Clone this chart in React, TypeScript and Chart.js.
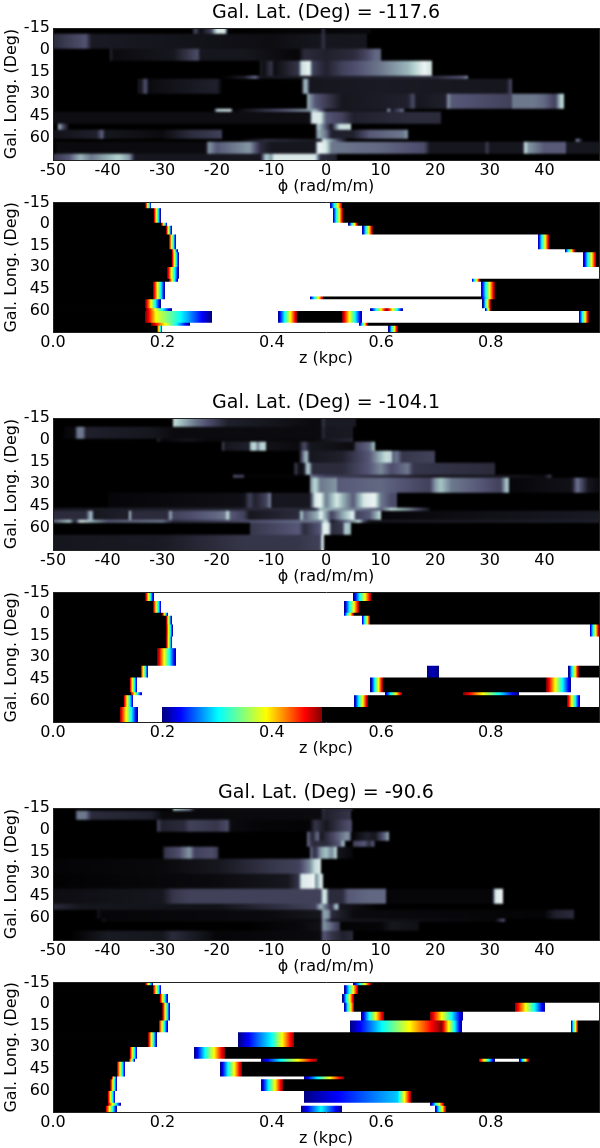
import React, { useEffect, useRef } from "react";
import { Chart, registerables } from "chart.js";

Chart.register(...registerables);

type Stop = number[];

const rowCount = 44;
const rowLabels = Array.from({ length: rowCount }, (_, i) => String(i));
const lonTicks = { min: -15, max: 75, step: 15 };
const titles = ["Gal. Lat. (Deg) = -117.6", "Gal. Lat. (Deg) = -104.1", "Gal. Lat. (Deg) = -90.6"];

// Faraday-depth panels: last row of each band, then [phi, brightness] stops
const phiRows1 = [2, 7, 11, 16, 17, 22, 27, 28, 32, 34, 37, 38, 42, 44];
const phiStops1: Stop[][] = [
  [[-24.5, 0], [-24, 0.35], [-23, 0.05], [-21, 0.3], [-20, 0.9], [-18.5, 0.9], [-18, 0], [-1, 0.03], [-0.5, 0.25], [0, 0.03], [8, 0.04], [8.5, 0]],
  [[-50, 0.2], [-44, 0.38], [-43, 0.12], [-10, 0.06], [-1, 0.1], [-0.5, 0.25], [0, 0.1], [7.5, 0.1]],
  [[-39.5, 0.2], [-39, 0.05], [-28, 0.1], [-23.5, 0.35], [-23, 0.1], [-15, 0.1], [-5, 0.03], [-4, 0.2], [0, 0.15], [5, 0.2], [7, 0.3], [9, 0.45], [10, 0.45]],
  [[-12, 0.15], [-11.5, 0.05], [-10, 0.25], [-9.5, 0.05], [-5, 0.25], [-4.5, 0.85], [-3, 0.95], [-2.5, 0.3], [0, 0.15], [3, 0.3], [10, 0.5], [15, 0.7], [18, 0.95], [19.5, 0.85]],
  [[-19, 0], [-15, 0.15], [-13, 0.5], [-12, 0.1], [20, 0.2], [25, 0.4], [26, 0.6]],
  [[-34.5, 0.2], [-34, 0.05], [-33, 0.4], [-32.5, 0.05], [-20, 0.15], [-19, 0], [-4.5, 0], [-4, 0.7], [-3.5, 0.7], [-3, 0.1], [10, 0.12], [33, 0.1], [34, 0.35]],
  [[-3.5, 0.7], [-2, 0.4], [3, 0.1], [15, 0.15], [16, 0.35], [16.5, 0.1], [22, 0.15], [22.3, 0.6], [23, 0.4], [34, 0.3], [34, 0.5], [38, 0.5], [40, 0.45], [42, 0.3], [43, 0.8], [43.5, 0.8]],
  [[-20.5, 0], [-20, 0.8], [-17.5, 0.85], [-17, 0], [-3, 0.6], [-2, 0.7], [0, 0.1], [11, 0.1], [11.5, 0.7], [12, 0.1], [14, 0.5], [14.5, 0.05]],
  [[-50, 0.06], [-3, 0.06], [-2.5, 0.9], [-1, 0.9], [0, 0.4], [3, 0.3], [5, 0.15], [15, 0.2], [21, 0.2]],
  [[-49, 0.7], [-48, 0.3], [-47, 0], [-2, 0], [-1.5, 0.8], [1, 0.1], [2.5, 0.85], [4.5, 0.85]],
  [[-50, 0.08], [-42, 0.15], [-41, 0.45], [-40.5, 0.1], [-30, 0.05], [-25, 0.2], [-19, 0.3], [-19, 0], [-2, 0], [-1.5, 0.7], [0, 0.5], [1, 0.15], [5, 0.15], [8, 0.4], [14, 0.5], [15, 0.6]],
  [[-16, 0], [-11, 0.2], [-1, 0.1], [-0.5, 0.9], [3, 0.2], [4, 0], [45.5, 0], [46, 0.6], [47, 0]],
  [[-49.5, 0.05], [-22, 0.05], [-21.5, 0.6], [-20, 0.4], [-14, 0.6], [-12, 0.2], [-10, 0.1], [-2, 0.1], [-1.5, 0.95], [0, 0.9], [1, 0.5], [10, 0.45], [18, 0.35], [19, 0.1], [29, 0.1], [29.5, 0.3], [30, 0.1], [36, 0.1], [36.5, 0.9], [37, 0.6], [40, 0.4], [44, 0.4], [44, 0.1], [50, 0.1]],
  [[-50, 0.25], [-47, 0.4], [-45, 0.7], [-43, 0.5], [-38, 0.8], [-36, 0.6], [-35, 0.1], [-12, 0.1], [-11, 0.8], [-10, 0.6], [-9.5, 0.9], [-2, 0.9], [-1, 0.2], [2, 0.15]],
];

const phiRows3 = [3, 7, 8, 11, 15, 19, 20, 25, 30, 31, 34, 35, 39, 44];
const phiStops3: Stop[][] = [
  [[-28, 0.85], [-24, 0.5], [-18, 0.15], [-3, 0.05], [-1, 0.05], [-0.5, 0.25], [0, 0.12], [5.5, 0.12]],
  [[-48, 0.03], [-46, 0.05], [-45.5, 0.5], [-44.5, 0.5], [-44, 0.15], [-32, 0.1], [-28, 0.05], [-1, 0.05], [-0.5, 0.2], [0, 0.1], [5, 0.12]],
  [[-31, 0.2], [-30, 0.03], [-25, 0.1], [-22, 0.04], [-2, 0.04], [0, 0.1], [5, 0.2]],
  [[-19, 0.35], [-18.5, 0.1], [-14, 0.15], [-14, 0.7], [-13, 0.85], [-12.5, 0.5], [-12, 0.8], [-11, 0.8], [-11, 0.08], [-5, 0.05], [-4, 0.35], [-3, 0.1], [5, 0.05], [5.5, 0.3], [8, 0.45], [9, 0.8]],
  [[-5, 0], [-4, 0.6], [-3.5, 0.75], [-3, 0.1], [3, 0.15], [8, 0.4], [11, 0.85], [12, 0.8], [12, 0.4], [13, 0.5], [14, 0.25], [19, 0.3], [20, 0.3]],
  [[-6, 0], [-5.5, 0.3], [-5, 0.05], [-4, 0.1], [-3.5, 0.8], [-3, 0.7], [-2.5, 0.2], [3, 0.2], [8, 0.4], [10, 0.55], [12, 0.35], [15, 0.5], [16, 0.25], [30, 0.2], [31, 0.2]],
  [[-17, 0.35], [-15, 0.3], [-15, 0.02], [-3, 0.02], [-3, 0.5], [0, 0.3], [20, 0.1], [32, 0.1], [40, 0.05], [41, 0.3], [41.5, 0]],
  [[-3, 0.5], [-2, 0.85], [-1, 0.5], [2, 0.6], [2, 0.4], [10, 0.45], [19, 0.3], [20, 0.6], [21, 0.75], [23, 0.5], [28, 0.4], [32, 0.3], [33, 0.75], [33.5, 0.7], [33.5, 0.03], [45, 0.08], [46, 0.5], [48, 0.1], [50, 0.05]],
  [[-40, 0.03], [-15, 0.07], [-14, 0.3], [-13, 0.15], [-11, 0.3], [-10, 0.6], [-10, 0.1], [-3, 0.1], [-2, 0.9], [-1, 0.95], [0, 0.5], [2, 0.9], [3, 0.7], [5, 0.4], [7, 0.9], [9, 0.95], [10, 0.5], [12, 0.35], [13, 0.35]],
  [[-50, 0.1], [-2, 0.2], [-1, 0.7], [10, 0.4], [12, 0.85], [15, 0.6], [19, 0.1]],
  [[-50, 0.2], [-44, 0.2], [-43, 0.8], [-42.5, 0.1], [-36, 0.15], [-36, 0.85], [-35.5, 0.2], [-29, 0.2], [-28.5, 0.7], [-28, 0.3], [-20, 0.45], [-18.5, 0.5], [-18, 0.9], [-17.5, 0.4], [-15, 0.3], [-14, 0.1], [-5, 0.2], [-4.5, 0.8], [-4, 0.4], [-1.5, 0.7], [-1, 0.95], [1, 0.3], [3, 0.65], [5, 0.95], [5.5, 0.3], [8, 0.4], [10, 0.85], [10, 0.03], [50, 0.12]],
  [[-50, 0.4], [-47, 0.8], [-46, 0.1], [-45, 0.9], [-44, 0.8], [-40, 0.4], [-30, 0.5], [-28, 0.2], [-1, 0.5], [0, 0.9], [1, 0.1], [5, 0.6], [6, 0.9], [7, 0.3], [8, 0.1], [50, 0.15]],
  [[-14, 0], [-14, 0.25], [-5, 0.4], [-4, 0.2], [-1, 0.4], [-0.5, 0.95], [0.5, 0.9], [1, 0.2], [3, 0.25], [3.5, 0.8], [4.5, 0.7]],
  [[-50, 0.1], [-30, 0.12], [-15, 0.25], [-5, 0.25], [-1, 0.3], [-0.8, 0.9], [-0.3, 0.9]],
];

const phiRows5 = [1, 4, 8, 11, 13, 17, 22, 27, 32, 34, 37, 38, 41, 44];
const phiStops5: Stop[][] = [
  [[-28, 0.8], [-25, 0.5], [-24, 0.05], [-1, 0.05], [-0.5, 0.25], [0, 0.15], [5, 0.2]],
  [[-46, 0], [-45.5, 0.5], [-44, 0.5], [-43, 0.2], [-32, 0.15], [-30, 0.04], [-1, 0.05], [-0.5, 0.2], [0, 0.15], [4.5, 0.25]],
  [[-31, 0.35], [-30, 0.15], [-26, 0.2], [-25, 0.3], [-20, 0.25], [-18, 0.35], [-17.5, 0.05], [-13, 0.03], [-3, 0.02], [-2, 0.25], [0, 0.1], [4, 0.35], [4.8, 0.35]],
  [[-3.5, 0.5], [-2.5, 0.15], [-1.5, 0.5], [-1, 0.1], [2, 0.4], [4, 0.6], [4.5, 0.4], [4.5, 0], [7.5, 0.15], [9, 0.1], [11, 0.5], [11.5, 0.7]],
  [[-3.5, 0.5], [-2.5, 0.2], [0, 0.2], [2.5, 0.4], [3, 0.7], [3.5, 0.6], [3.5, 0], [5, 0], [5, 0.3], [7, 0.4], [8, 0.2], [8.5, 0.4], [9, 0.2]],
  [[-30, 0], [-29.5, 0.25], [-27, 0.35], [-25, 0.6], [-24, 0.3], [-21, 0.35], [-20, 0.3], [-19.5, 0], [-3, 0], [-3, 0.5], [-2, 0.2], [-1, 0.6], [0, 0.75], [1, 0.55], [2, 0.85], [2, 0.1], [5, 0.03]],
  [[-50, 0.02], [-30, 0.04], [-20, 0.1], [-10, 0.25], [-5, 0.3], [-3, 0.55], [-2, 0.85], [-1, 0.9]],
  [[-50, 0.01], [-20, 0.05], [-7, 0.1], [-5, 0.25], [-4.5, 0.9], [-2, 0.95], [-2, 0.5], [-1, 0.9], [-0.5, 0.9]],
  [[-50, 0.06], [-30, 0.1], [-28, 0.25], [-25, 0.3], [-5, 0.3], [-1, 0.3], [-0.5, 0.9], [0, 0.9], [0.5, 0.2], [3, 0.2], [4, 0.4], [8, 0.45], [11, 0.45], [11, 0.03], [30.5, 0.03], [31, 0.9], [32.5, 0.95]],
  [[-50, 0.2], [-45, 0.1], [-20, 0.08], [-2, 0.3], [-1, 0.7], [1, 0.2], [2, 0.85], [2.5, 0.1], [10, 0]],
  [[-42, 0.1], [-41, 0.03], [-10, 0.05], [-1, 0.1], [-0.5, 0.65], [0.5, 0.6], [1, 0.2], [5, 0.05], [40, 0.02], [42, 0.15], [45.5, 0.2]],
  [[-41, 0.1], [-40, 0.03], [-1, 0.05], [-0.5, 0.6], [1, 0.1], [31, 0.03], [32.5, 0.4], [33, 0]],
  [[-15, 0], [-5, 0.04], [-1, 0.08], [-0.5, 0.6], [0.5, 0.5], [2.5, 0.25], [2.5, 0.02], [10, 0.03], [12, 0.1], [17, 0.07]],
  [[-47, 0], [-40, 0.12], [-30, 0.1], [-28, 0.2], [-20, 0.03], [-1, 0.05], [-0.5, 0.4], [1, 0.25], [3, 0.15], [5, 0.2]],
];

// Height panels: last row of each band, then alternating black/white ramps [from, to]
// or [from, knee, kneeValue, to]
const zRows2 = [2, 7, 8, 11, 16, 17, 22, 26, 27, 32, 33, 36, 37, 41, 42, 44];
const zRamps2: number[][][] = [
  [[0.169, 0.18], [0.506, 0.529]],
  [[0.184, 0.197], [0.511, 0.53]],
  [[0.198, 0.209], [0.54, 0.557]],
  [[0.207, 0.217], [0.565, 0.584]],
  [[0.212, 0.225], [0.886, 0.907]],
  [[0.217, 0.228], [0.935, 0.954]],
  [[0.217, 0.23], [0.969, 0.993]],
  [[0.209, 0.23]],
  [[0.212, 0.228], [0.765, 0.78]],
  [[0.183, 0.205], [0.782, 0.807]],
  [[0.183, 0.205], [0.469, 0.494], [0.782, 0.783], [0.783, 0.807]],
  [[0.169, 0.197], [0.785, 0.8]],
  [[0.17, 0.217], [0.58, 0.61], [0.61, 0.64], [0.79, 0.8]],
  [[0.169, 0.19, 0.62, 0.29], [0.411, 0.446], [0.529, 0.565], [0.961, 0.979]],
  [[0.18, 0.25], [0.56, 0.575]],
  [[0.19, 0.2], [0.613, 0.63]],
];

const zRows4 = [3, 7, 8, 11, 15, 19, 25, 29, 34, 35, 39, 44];
const zRamps4: number[][][] = [
  [[0.169, 0.184], [0.549, 0.582]],
  [[0.183, 0.198], [0.532, 0.56]],
  [[0.2, 0.21], [0.531, 0.55]],
  [[0.207, 0.217], [0.564, 0.58]],
  [[0.207, 0.219], [0.981, 0.998]],
  [[0.207, 0.218]],
  [[0.191, 0.225]],
  [[0.16, 0.174], [0.683, 0.694, 0.05, 0.694], [0.694, 0.694, 0.05, 0.705], [0.942, 0.961]],
  [[0.14, 0.154], [0.58, 0.603], [0.902, 0.947]],
  [[0.142, 0.162], [0.606, 0.638], [0.75, 0.851]],
  [[0.129, 0.147], [0.55, 0.575], [0.94, 0.963]],
  [[0.122, 0.155], [0.2, 0.492]],
];

const zRows6 = [1, 4, 7, 10, 13, 17, 22, 26, 27, 32, 33, 37, 41, 42, 44];
const zRamps6: number[][][] = [
  [[0.169, 0.183], [0.549, 0.582]],
  [[0.183, 0.198], [0.532, 0.558]],
  [[0.195, 0.21], [0.529, 0.55]],
  [[0.2, 0.214], [0.532, 0.551], [0.844, 0.9]],
  [[0.2, 0.214], [0.563, 0.605], [0.689, 0.75]],
  [[0.193, 0.21], [0.543, 0.71], [0.71, 0.747], [0.946, 0.96]],
  [[0.174, 0.19], [0.338, 0.4, 0.35, 0.441]],
  [[0.14, 0.154], [0.258, 0.314]],
  [[0.139, 0.15], [0.381, 0.483], [0.778, 0.807], [0.852, 0.87]],
  [[0.117, 0.132], [0.306, 0.345]],
  [[0.107, 0.117], [0.458, 0.532]],
  [[0.105, 0.117], [0.38, 0.42]],
  [[0.1, 0.114], [0.458, 0.63, 0.3, 0.655]],
  [[0.1, 0.124], [0.69, 0.715]],
  [[0.096, 0.117], [0.453, 0.49, 0.35, 0.49], [0.49, 0.49, 0.35, 0.529], [0.698, 0.719]],
];

const boneKeys = [[0, 0, 0, 0], [0.375, 81, 81, 113], [0.75, 166, 198, 198], [1, 255, 255, 255]];
const jetKeys = [[0, 0, 0, 128], [0.11, 0, 0, 255], [0.35, 0, 255, 255], [0.65, 255, 255, 0], [0.89, 255, 0, 0], [1, 128, 0, 0]];

function lookup(keys: number[][], v: number): string {
  const t = Math.min(1, Math.max(0, v));
  for (let i = 1; i < keys.length; i++) {
    if (t <= keys[i][0]) {
      const a = keys[i - 1];
      const b = keys[i];
      const f = (t - a[0]) / (b[0] - a[0]);
      return `rgb(${[1, 2, 3].map((c) => Math.round(a[c] + (b[c] - a[c]) * f)).join(",")})`;
    }
  }
  return "rgb(255,255,255)";
}

// Colour stops of one band, as [x, css colour]
function rampLine(out: [number, string][], keys: number[][], x0: number, v0: number, x1: number, v1: number) {
  out.push([x0, lookup(keys, v0)]);
  const lo = Math.min(v0, v1);
  const hi = Math.max(v0, v1);
  const inner = keys.map((k) => k[0]).filter((k) => k > lo && k < hi);
  if (v0 > v1) inner.reverse();
  for (const k of inner) out.push([x0 + ((k - v0) / (v1 - v0)) * (x1 - x0), lookup(keys, k)]);
  out.push([x1, lookup(keys, v1)]);
}

function grayBand(stops: Stop[], min: number, max: number): [number, string][] {
  const out: [number, string][] = [[min, "#000"]];
  if (stops[0][0] > min) out.push([stops[0][0], "#000"]);
  for (let i = 0; i + 1 < stops.length; i++) {
    rampLine(out, boneKeys, stops[i][0], stops[i][1], stops[i + 1][0], stops[i + 1][1]);
  }
  const last = stops[stops.length - 1][0];
  if (last < max) {
    out.push([last, "#000"]);
    out.push([max, "#000"]);
  }
  return out;
}

function rampBand(ramps: number[][], min: number, max: number): [number, string][] {
  const out: [number, string][] = [[min, "#000"]];
  let white = false;
  for (const r of ramps) {
    const x0 = r[0];
    const x1 = r[r.length - 1];
    const from = white ? 0 : 1;
    const to = white ? 1 : 0;
    out.push([x0, white ? "#fff" : "#000"]);
    if (r.length === 4) {
      rampLine(out, jetKeys, x0, from, r[1], r[2]);
      rampLine(out, jetKeys, r[1], r[2], x1, to);
    } else {
      rampLine(out, jetKeys, x0, from, x1, to);
    }
    white = !white;
    out.push([x1, white ? "#fff" : "#000"]);
  }
  out.push([max, white ? "#fff" : "#000"]);
  return out;
}

function softenPlugin(radius: number) {
  return {
    id: "soften",
    afterDatasetsDraw(chart: any) {
      const { ctx, chartArea: a } = chart;
      ctx.save();
      ctx.beginPath();
      ctx.rect(a.left, a.top, a.width, a.height);
      ctx.clip();
      ctx.filter = `blur(${radius}px)`;
      ctx.drawImage(ctx.canvas, 0, 0);
      ctx.restore();
    },
  };
}

const FONT = "'DejaVu Sans'";

type PanelDef = {
  top: number;
  title?: string;
  xLabel: string;
  min: number;
  max: number;
  step: number;
  rows: number[];
  bands: [number, string][][];
  soft: number;
  fmt: (v: number) => string;
};

const xAxisPhi = { xLabel: "\u03D5 (rad/m/m)", min: -50, max: 50, step: 10, soft: 0.8, fmt: (v: number) => (v >= 50 ? "" : String(v)) };
const xAxisZ = { xLabel: "z (kpc)", min: 0, max: 0.998, step: 0.2, soft: 0.3, fmt: (v: number) => v.toFixed(1) };

const panels: PanelDef[] = [
  { top: 0, title: titles[0], rows: phiRows1, bands: phiStops1.map((s) => grayBand(s, -50, 50)), ...xAxisPhi },
  { top: 190, rows: zRows2, bands: zRamps2.map((s) => rampBand(s, 0, 0.998)), ...xAxisZ },
  { top: 390, title: titles[1], rows: phiRows3, bands: phiStops3.map((s) => grayBand(s, -50, 50)), ...xAxisPhi },
  { top: 580, rows: zRows4, bands: zRamps4.map((s) => rampBand(s, 0, 0.998)), ...xAxisZ },
  { top: 780, title: titles[2], rows: phiRows5, bands: phiStops5.map((s) => grayBand(s, -50, 50)), ...xAxisPhi },
  { top: 970, rows: zRows6, bands: zRamps6.map((s) => rampBand(s, 0, 0.998)), ...xAxisZ },
];

function Panel({ def }: { def: PanelDef }) {
  const ref = useRef<HTMLCanvasElement>(null);
  const height = def.title ? 196 : 178;
  useEffect(() => {
    const bandOf = (row: number) => def.rows.findIndex((end) => row < end);
    const frame = { display: true, color: "#222", width: 1, z: 2 };
    const chart = new Chart(ref.current!, {
      type: "bar",
      data: {
        labels: rowLabels,
        datasets: [
          {
            data: rowLabels.map(() => [def.min, def.max]) as any,
            barPercentage: 1,
            categoryPercentage: 1,
            borderWidth: 0,
            backgroundColor: (c: any) => {
              const sc = c.chart.scales.x;
              if (!sc || c.dataIndex === undefined || !Number.isFinite(sc.left) || !Number.isFinite(sc.right)) return "#000";
              const g = c.chart.ctx.createLinearGradient(sc.left, 0, sc.right, 0);
              const band = def.bands[bandOf(c.dataIndex)] || [];
              for (const [x, col] of band) {
                const t = (x - def.min) / (def.max - def.min);
                g.addColorStop(Math.min(1, Math.max(0, t)), col);
              }
              return g;
            },
          },
        ],
      },
      options: {
        indexAxis: "y",
        responsive: false,
        animation: false,
        devicePixelRatio: 1,
        layout: { padding: { top: def.title ? 0 : 10, right: 1, left: 0, bottom: 0 } },
        plugins: {
          legend: { display: false },
          tooltip: { enabled: false },
          title: {
            display: !!def.title,
            text: def.title,
            fullSize: false,
            color: "#000",
            font: { family: FONT, size: 19, weight: "normal", lineHeight: 1 },
            padding: { top: 4, bottom: 5 },
          },
        },
        scales: {
          x: {
            type: "linear",
            position: "bottom",
            min: def.min,
            max: def.max,
            afterFit: (s: any) => {
              s.height = 36;
            },
            grid: { display: false, drawTicks: false },
            border: frame,
            ticks: {
              stepSize: def.step,
              includeBounds: false,
              autoSkip: false,
              maxRotation: 0,
              padding: 1,
              color: "#000",
              font: { family: FONT, size: 16 },
              callback: (v: any) => def.fmt(Number(v)),
            },
            title: { display: true, text: def.xLabel, color: "#000", padding: 0, font: { family: FONT, size: 16, lineHeight: 1.1 } },
          },
          xTop: {
            type: "linear",
            position: "top",
            afterFit: (s: any) => {
              s.height = 0;
            },
            grid: { display: false, drawTicks: false },
            border: frame,
            ticks: { display: false },
          },
          y: { type: "category", display: false, position: "left", offset: true },
          yLon: {
            type: "linear",
            position: "left",
            reverse: true,
            offset: false,
            min: lonTicks.min,
            max: lonTicks.max,
            afterFit: (s: any) => {
              s.width = 53;
            },
            grid: { display: false, drawTicks: false },
            border: frame,
            ticks: {
              stepSize: lonTicks.step,
              autoSkip: false,
              padding: 3,
              color: "#000",
              font: { family: FONT, size: 16 },
              callback: (v: any) => (Number(v) >= lonTicks.max ? "" : String(v)),
            },
            title: { display: true, text: "Gal. Long. (Deg)", color: "#000", padding: 2, font: { family: FONT, size: 16, lineHeight: 1.2 } },
          },
          yRight: {
            type: "linear",
            position: "right",
            offset: false,
            afterFit: (s: any) => {
              s.width = 0;
            },
            grid: { display: false, drawTicks: false },
            border: frame,
            ticks: { display: false },
          },
        },
      } as any,
      plugins: [softenPlugin(def.soft)],
    });
    return () => chart.destroy();
  }, []);
  return <canvas ref={ref} width={600} height={height} style={{ position: "absolute", left: 0, top: def.top, width: 600, height }} />;
}

export default function App() {
  return (
    <div style={{ position: "absolute", left: 0, top: 0, width: 600, height: 1148, overflow: "hidden", background: "#fff" }}>
      {panels.map((p, i) => (
        <Panel key={i} def={p} />
      ))}
    </div>
  );
}
